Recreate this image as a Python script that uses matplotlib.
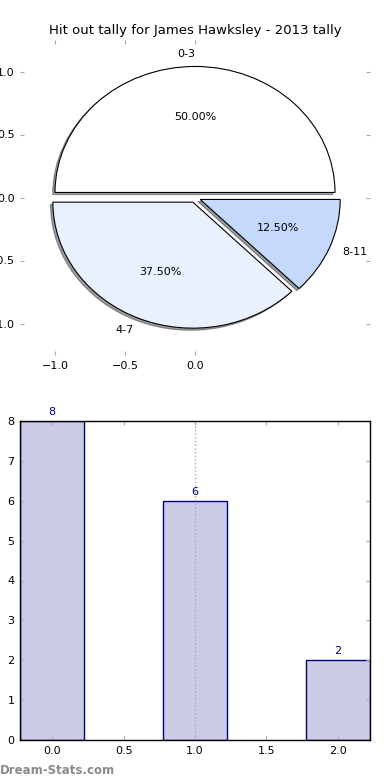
import matplotlib
matplotlib.use('Agg')
import matplotlib.pyplot as plt

labels = ['0-3', '4-7', '8-11']
tally = [8, 6, 2]
pie_colours = ['#ffffff', '#eaf1fe', '#c5d9fd']
explode = [0.04, 0.04, 0.04]
bar_pos = [0, 1, 2]
title = 'Hit out tally for James Hawksley - 2013 tally'

fig = plt.figure(figsize=(3.9, 7.8), dpi=100)

# pie on top
ax1 = fig.add_axes([20/390, 1-355/780, 350/390, 315/780])
ax1.pie(tally, explode=explode, labels=labels, colors=pie_colours,
        autopct='%1.2f%%', shadow={'ox': -0.012, 'oy': -0.012, 'shade': 0.75},
        startangle=0,
        wedgeprops=dict(linewidth=0.8, edgecolor='black'),
        textprops=dict(fontsize=8))
ax1.set_aspect('auto')
ax1.set_frame_on(False)
ax1.set_xlim(-1.25, 1.25)
ax1.set_ylim(-1.25, 1.25)
ax1.set_xticks([-1.0, -0.5, 0.0])
ax1.set_yticks([-1.0, -0.5, 0.0, 0.5, 1.0])
ax1.tick_params(direction='in', length=3, color='#aaaaaa', labelsize=8,
                top=True, right=True, pad=4)
ax1.set_title(title, fontsize=9.5, pad=4)

# bars below
ax2 = fig.add_axes([20/390, 40/780, 350/390, 319/780])
bars = ax2.bar(bar_pos, tally, width=0.45, color='#ccccE6', edgecolor='#000080',
               linewidth=1.0, align='center')
for b, v in zip(bars, tally):
    ax2.text(b.get_x() + b.get_width()/2, v + 0.1, str(v), ha='center', va='bottom',
             color='#000080', fontsize=8)
ax2.axvline(1.0, color='#aaaaaa', linestyle=':', linewidth=1, zorder=3)
ax2.set_xlim(-0.225, 2.225)
ax2.set_ylim(0, 8)
ax2.set_xticks([0.0, 0.5, 1.0, 1.5, 2.0])
ax2.set_yticks(range(0, 9))
ax2.tick_params(direction='in', length=3, color='#aaaaaa', labelsize=8,
                top=True, right=True, pad=4)
for s in ax2.spines.values():
    s.set_linewidth(1.0)

fig.text(0.0, 0.004, 'Dream-Stats.com', color='#8a8a8a', fontsize=8.5,
         fontweight='bold', ha='left', va='bottom')

fig.savefig('out.png', dpi=100)
